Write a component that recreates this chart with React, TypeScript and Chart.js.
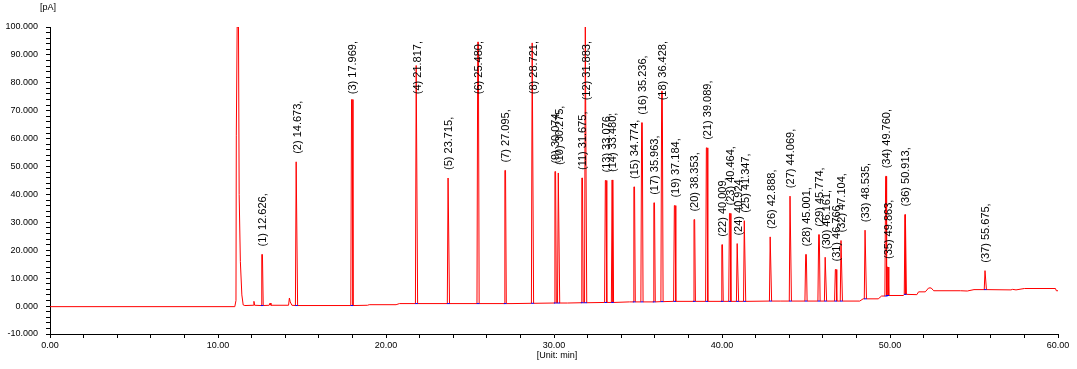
import { useEffect, useRef } from 'react';
import { Chart, registerables } from 'chart.js';

Chart.register(...registerables);

// Labelled peaks: number, retention time (min), apex height (pA), local baseline (pA)
const peakNumbers = [
  1, 2, 3, 4, 5, 6, 7, 8, 9, 10, 11, 12, 13, 14, 15, 16, 17, 18, 19, 20,
  21, 22, 23, 24, 25, 26, 27, 28, 29, 30, 31, 32, 33, 34, 35, 36, 37,
];
const peakTimes = [
  12.626, 14.673, 17.969, 21.817, 23.715, 25.48, 27.095, 28.721, 30.074, 30.275,
  31.675, 31.883, 33.076, 33.48, 34.774, 35.236, 35.963, 36.428, 37.184, 38.353,
  39.089, 40.009, 40.464, 40.924, 41.347, 42.888, 44.069, 45.001, 45.774, 46.161,
  46.766, 47.104, 48.535, 49.76, 49.863, 50.913, 55.675,
];
const peakHeights = [
  18.5, 51.7, 74.0, 86.2, 45.9, 94.6, 48.6, 94.3, 48.2, 47.7,
  45.9, 100.0, 45.0, 45.2, 42.7, 65.7, 37.0, 77.0, 36.0, 31.0,
  56.7, 22.0, 33.2, 22.4, 30.6, 24.8, 39.4, 18.5, 25.6, 17.5,
  13.1, 23.5, 27.2, 46.5, 14.0, 32.8, 12.7,
];
const peakBases = [
  0.2, 0.2, 0.2, 0.9, 0.9, 0.9, 0.9, 1.0, 1.1, 1.1,
  1.2, 1.2, 1.3, 1.3, 1.5, 1.5, 1.5, 1.6, 1.7, 1.7,
  1.7, 1.7, 1.7, 1.7, 1.7, 1.8, 1.8, 1.8, 1.8, 1.8,
  1.8, 1.8, 2.6, 3.6, 3.8, 4.2, 5.9,
];

// Unlabelled part of the trace: baseline drift, solvent peak, small bumps
const baselineTimes = [
  0, 11.0, 11.07, 11.09, 11.14, 11.22, 11.26, 11.33, 11.42, 11.5, 11.6,
  12.1, 12.14, 12.18, 13.05, 13.1, 13.15, 14.2, 14.25, 14.3, 14.4,
  18.9, 19.0, 20.6, 20.8, 27.5, 30.8, 33.5, 34.5, 37.5, 43.5, 48.2, 48.4,
  49.3, 49.5, 50.8, 50.9, 51.6, 51.7, 52.1, 52.3, 52.45, 52.6, 54.2, 54.6,
  55.0, 57.2, 57.3, 57.5, 58.0, 59.85, 59.9, 60,
];
const baselineValues = [
  -0.2, -0.2, 2, 61, 100, 100, 40, 16, 4, 0.4, 0.2,
  0.3, 1.7, 0.3, 0.3, 1.1, 0.3, 0.3, 2.9, 1.5, 0.3,
  0.3, 0.5, 0.5, 0.9, 0.9, 1.1, 1.3, 1.5, 1.7, 1.8, 1.8, 2.6,
  2.6, 3.6, 3.8, 4.1, 4.1, 5.1, 5.1, 6.5, 6.5, 5.5, 5.5, 5.4,
  5.9, 5.8, 6.0, 5.8, 6.3, 6.3, 5.5, 5.5,
];

const X_MIN = 0;
const X_MAX = 60;
const X_STEP = 2;
const X_LABEL_EVERY = 10;
const Y_MIN = -10;
const Y_MAX = 100;
const Y_STEP = 2;
const Y_LABEL_EVERY = 10;
const Y_UNIT = '[pA]';
const X_UNIT = '[Unit: min]';

const PEAK_FOOT_HALF = 0.065;
const PEAK_TOP_HALF = 0.02;
const BASE_MARK_HALF_WIDTH = 0.08;

type Pt = { x: number; y: number | null };

function buildTrace(): Pt[] {
  const pts: Pt[] = [];
  baselineTimes.forEach((t, i) => pts.push({ x: t, y: baselineValues[i] }));
  peakTimes.forEach((t, i) => {
    pts.push({ x: t - PEAK_FOOT_HALF, y: peakBases[i] });
    pts.push({ x: t - PEAK_TOP_HALF, y: peakHeights[i] });
    pts.push({ x: t + PEAK_TOP_HALF, y: peakHeights[i] });
    pts.push({ x: t + PEAK_FOOT_HALF, y: peakBases[i] });
  });
  pts.sort((a, b) => a.x - b.x);
  return pts;
}

function buildBaseMarks(): Pt[] {
  const pts: Pt[] = [];
  peakTimes.forEach((t, i) => {
    pts.push({ x: t - BASE_MARK_HALF_WIDTH, y: peakBases[i] });
    pts.push({ x: t + BASE_MARK_HALF_WIDTH, y: peakBases[i] });
    pts.push({ x: t + BASE_MARK_HALF_WIDTH + 0.001, y: null });
  });
  return pts;
}

const FONT = '"Liberation Sans", Arial, sans-serif';

const peakLabelPlugin = {
  id: 'peakLabels',
  afterDatasetsDraw(chart: any) {
    const { ctx, scales } = chart;
    const xs = scales.x;
    const ys = scales.y;
    ctx.save();
    ctx.font = `11px ${FONT}`;
    ctx.fillStyle = '#000000';
    ctx.textAlign = 'left';
    ctx.textBaseline = 'middle';
    const topLimit = chart.chartArea.top + 14;
    peakTimes.forEach((t, i) => {
      const text = `(${peakNumbers[i]}) ${t.toFixed(3)},`;
      const w = ctx.measureText(text).width;
      const px = xs.getPixelForValue(t);
      const py = ys.getPixelForValue(peakHeights[i]);
      let bottom = py - 8;
      if (bottom - w < topLimit) bottom = topLimit + w;
      ctx.save();
      ctx.translate(px + 1, bottom);
      ctx.rotate(-Math.PI / 2);
      ctx.fillText(text, 0, 0);
      ctx.restore();
    });
    ctx.font = `9px ${FONT}`;
    ctx.textAlign = 'center';
    ctx.textBaseline = 'middle';
    ctx.fillText(Y_UNIT, 48, 8);
    ctx.fillText(X_UNIT, 557, 356);
    ctx.restore();
  },
};

export default function App() {
  const ref = useRef<HTMLCanvasElement | null>(null);
  useEffect(() => {
    document.body.style.margin = '0';
    if (!ref.current) return;
    const chart = new Chart(ref.current, {
      type: 'line',
      data: {
        datasets: [
          {
            data: buildBaseMarks() as any,
            borderColor: '#0000FF',
            borderWidth: 1,
            pointRadius: 0,
            spanGaps: false,
            tension: 0,
          },
          {
            data: buildTrace() as any,
            borderColor: '#FF0000',
            borderWidth: 1,
            pointRadius: 0,
            tension: 0,
          },
        ],
      },
      options: {
        animation: false,
        responsive: false,
        maintainAspectRatio: false,
        parsing: false,
        normalized: true,
        layout: { padding: { top: 27, right: 19, left: 0, bottom: 0 } },
        plugins: { legend: { display: false }, tooltip: { enabled: false } },
        scales: {
          x: {
            type: 'linear',
            min: X_MIN,
            max: X_MAX,
            afterFit: (s: any) => {
              s.height = 35;
            },
            border: { display: true, color: '#000000', width: 1 },
            grid: { display: true, drawOnChartArea: false, drawTicks: true, tickLength: 4, color: '#000000' },
            ticks: {
              stepSize: X_STEP,
              autoSkip: false,
              maxRotation: 0,
              padding: 2,
              color: '#000000',
              font: { family: FONT, size: 9 },
              callback: (v: any) => (Math.abs(Number(v) % X_LABEL_EVERY) < 1e-9 ? Number(v).toFixed(2) : ''),
            },
          },
          y: {
            type: 'linear',
            min: Y_MIN,
            max: Y_MAX,
            afterFit: (s: any) => {
              s.width = 50;
            },
            border: { display: true, color: '#000000', width: 1 },
            grid: { display: true, drawOnChartArea: false, drawTicks: true, tickLength: 4, color: '#000000' },
            ticks: {
              stepSize: Y_STEP,
              autoSkip: false,
              padding: 8,
              color: '#000000',
              font: { family: FONT, size: 9 },
              callback: (v: any) => (Math.abs(Number(v) % Y_LABEL_EVERY) < 1e-9 ? Number(v).toFixed(3) : ''),
            },
          },
        },
      },
      plugins: [peakLabelPlugin],
    });
    return () => chart.destroy();
  }, []);
  return <canvas ref={ref} width={1077} height={369} style={{ display: 'block' }} />;
}
